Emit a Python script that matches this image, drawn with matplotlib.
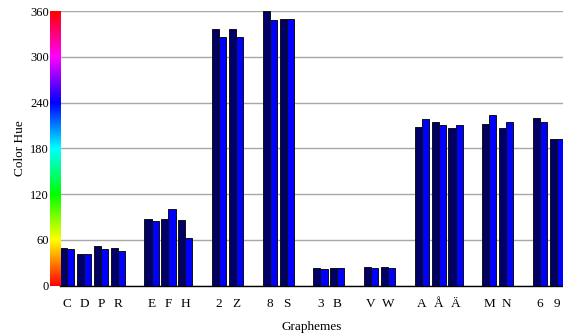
import numpy as np
import matplotlib
matplotlib.use("Agg")
import matplotlib.pyplot as plt
from matplotlib.colors import hsv_to_rgb

graphemes = ['C', 'D', 'P', 'R', 'E', 'F', 'H', '2', 'Z', '8', 'S', '3', 'B',
             'V', 'W', 'A', 'Å', 'Ä', 'M', 'N', '6', '9']
group_sizes = [4, 3, 2, 2, 2, 2, 3, 2, 2]
series_dark = [50, 41.5, 52, 50, 88, 88, 86, 336, 336, 360, 349, 23, 23,
               24.5, 24.5, 208, 215, 207, 212, 207, 220, 192]
series_blue = [47.5, 41.5, 47.5, 46, 85, 100.5, 62, 326, 326, 348, 350, 21.5, 23.5,
               23.5, 23.5, 219, 211, 211, 224, 215, 215, 192]
yticks = [0, 60, 120, 180, 240, 300, 360]

# positions: one empty slot between groups
pos = []
s = 0
for g in group_sizes:
    for i in range(g):
        pos.append(s)
        s += 1
    s += 1
pos = np.array(pos, dtype=float)

plt.rcParams['font.family'] = ['Liberation Serif', 'DejaVu Serif']

fig = plt.figure(figsize=(5.63, 3.36), dpi=100)
ax = fig.add_axes([60/563, 50.3/336, 503/563, 274.7/336])

w = 0.42
ax.bar(pos - w/2, series_dark, width=w, color='#000066', edgecolor='#111111',
       linewidth=0.7, zorder=3)
ax.bar(pos + w/2, series_blue, width=w, color='#0000ff', edgecolor='#111111',
       linewidth=0.7, zorder=3)

ax.set_xlim(-0.42, pos[-1] + 0.36)
ax.set_ylim(0, 360)
ax.set_yticks(yticks)
ax.set_yticklabels([str(v) for v in yticks], fontsize=9)
ax.set_xticks(pos)
ax.set_xticklabels(graphemes, fontsize=9.5)
ax.tick_params(axis='y', length=0, pad=8)
ax.tick_params(axis='x', length=0, pad=9)
ax.yaxis.grid(True, color='#a8a8a8', linewidth=1.0, zorder=0)
ax.set_axisbelow(True)
for sp in ['top', 'right', 'left']:
    ax.spines[sp].set_visible(False)
ax.spines['bottom'].set_color('black')
ax.spines['bottom'].set_linewidth(1.0)
ax.spines['bottom'].set_zorder(4)

ax.set_xlabel('Graphemes', fontsize=9.5, labelpad=8)
ax.set_ylabel('Color Hue', fontsize=9.5, labelpad=3)

# hue colour bar
cax = fig.add_axes([50/563, 50.3/336, 10/563, 274.7/336])
h = np.linspace(0, 1, 360)[:, None]
hsv = np.dstack([h, np.ones_like(h), np.ones_like(h)])
cax.imshow(hsv_to_rgb(hsv), aspect='auto', origin='lower', extent=[0, 1, 0, 360])
cax.set_axis_off()

fig.savefig('out.png', dpi=100)
